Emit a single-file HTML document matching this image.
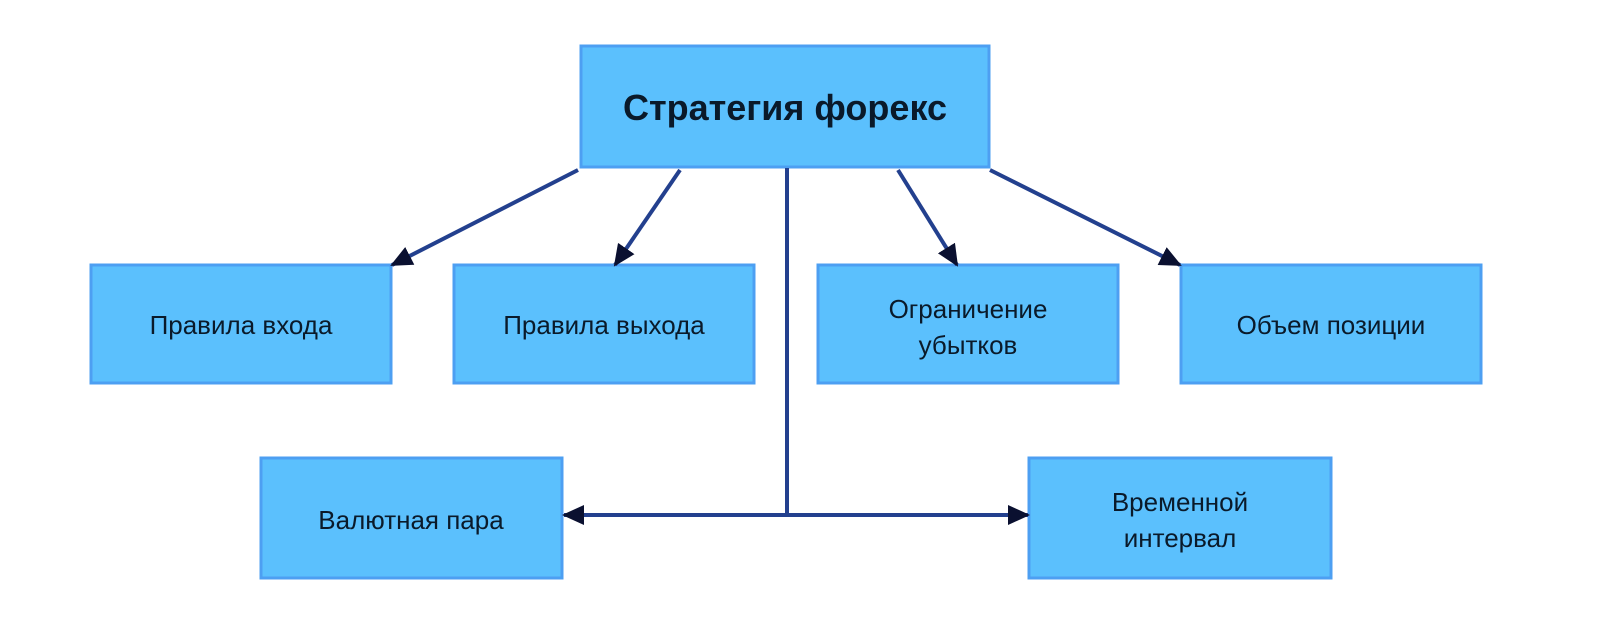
<!DOCTYPE html>
<html><head><meta charset="utf-8"><style>
body{margin:0;background:#fff;width:1600px;height:612px;overflow:hidden}
</style></head><body>
<svg width="1600" height="612" xmlns="http://www.w3.org/2000/svg" font-family="Liberation Sans, sans-serif">
<defs>
<marker id="b" markerWidth="22" markerHeight="20" refX="20" refY="10" orient="auto" markerUnits="userSpaceOnUse"><path d="M0,0 L22,10 L0,20 z" fill="#0a1030"/></marker></defs>
<g fill="#5bc0fd" stroke="#4d9ff2" stroke-width="3">
<rect x="581" y="46" width="408" height="121"/>
<rect x="91" y="265" width="300" height="118"/>
<rect x="454" y="265" width="300" height="118"/>
<rect x="818" y="265" width="300" height="118"/>
<rect x="1181" y="265" width="300" height="118"/>
<rect x="261" y="458" width="301" height="120"/>
<rect x="1029" y="458" width="302" height="120"/>
</g>
<g stroke="#23408e" stroke-width="4" fill="none">
<line x1="578" y1="170" x2="392" y2="265" marker-end="url(#b)"/>
<line x1="680" y1="170" x2="615" y2="265" marker-end="url(#b)"/>
<line x1="898" y1="170" x2="957" y2="265" marker-end="url(#b)"/>
<line x1="990" y1="170" x2="1180" y2="265" marker-end="url(#b)"/>
<line x1="787" y1="168" x2="787" y2="515"/>
<line x1="787" y1="515" x2="564" y2="515" marker-end="url(#b)"/>
<line x1="787" y1="515" x2="1028" y2="515" marker-end="url(#b)"/>
</g>
<g fill="#0a1a2a" text-anchor="middle" font-size="26">
<text x="785" y="120" font-size="36" font-weight="bold">Стратегия форекс</text>
<text x="241" y="334">Правила входа</text>
<text x="604" y="334">Правила выхода</text>
<text x="968" y="318">Ограничение</text>
<text x="968" y="354">убытков</text>
<text x="1331" y="334">Объем позиции</text>
<text x="411" y="529">Валютная пара</text>
<text x="1180" y="511">Временной</text>
<text x="1180" y="547">интервал</text>
</g>
</svg>
</body></html>
